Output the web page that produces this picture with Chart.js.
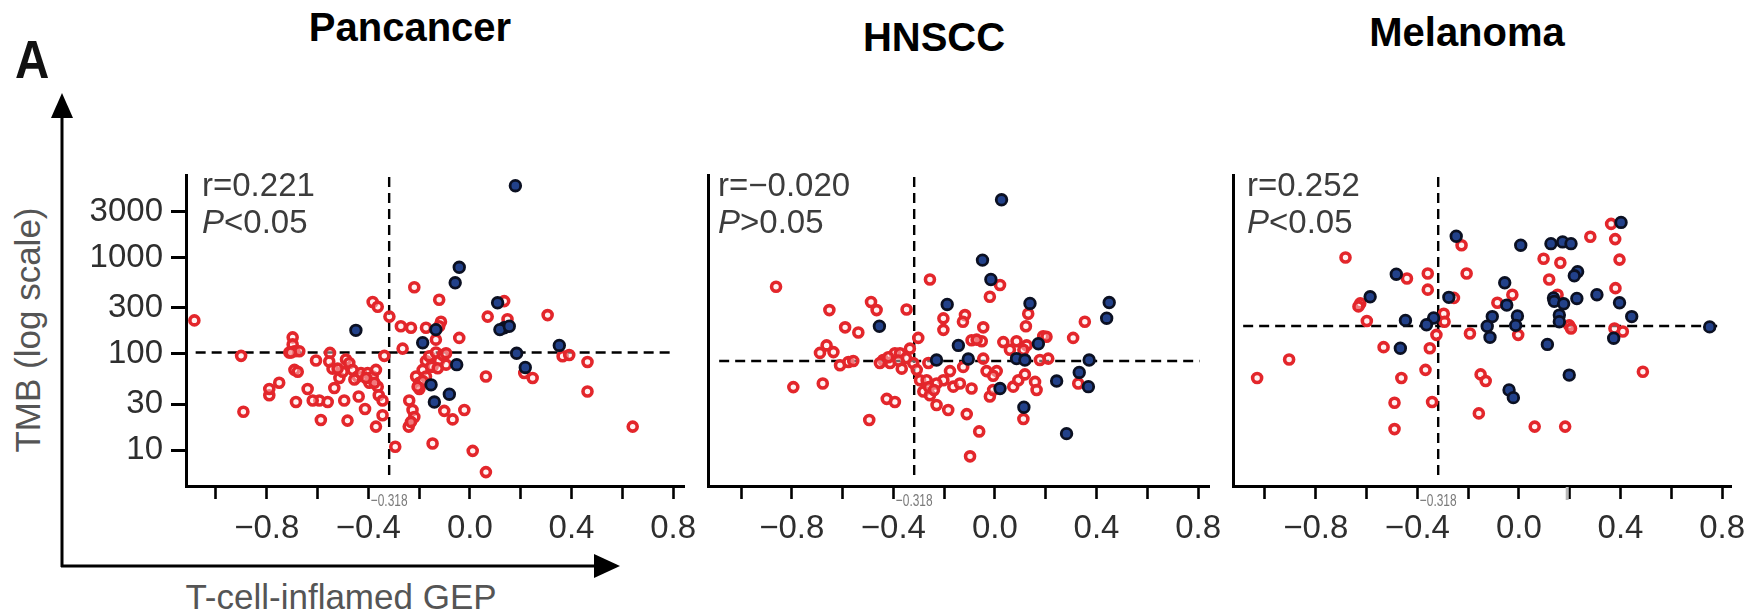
<!DOCTYPE html>
<html><head><meta charset="utf-8">
<script src="https://cdn.jsdelivr.net/npm/chart.js@4.4.0/dist/chart.umd.min.js"></script>
<style>
html,body{margin:0;padding:0;background:#fff;width:1762px;height:611px;overflow:hidden;font-family:"Liberation Sans",Arial,sans-serif;}
canvas{position:absolute;}
.t{position:absolute;white-space:nowrap;line-height:1;}
.title{font-weight:bold;font-size:40px;color:#000;transform:translateX(-50%);}
.stat{font-size:33px;line-height:37px;color:#3c3c3c;}
.axl{font-size:35px;color:#555;}
</style></head><body>
<svg width="1762" height="611" style="position:absolute;left:0;top:0">
  <line x1="62" y1="112" x2="62" y2="567" stroke="#000" stroke-width="3"/>
  <polygon points="62,93 51,118 73,118" fill="#000"/>
  <line x1="61" y1="566" x2="600" y2="566" stroke="#000" stroke-width="3"/>
  <polygon points="620,566 594,554 594,578" fill="#000"/>
</svg>
<div class="t" style="left:15px;top:32px;font-size:54px;font-weight:bold;transform:scaleX(0.88);transform-origin:left top;color:#111">A</div>
<div class="t title" style="left:410px;top:7px">Pancancer</div>
<div class="t title" style="left:934px;top:17px">HNSCC</div>
<div class="t title" style="left:1467px;top:12px">Melanoma</div>
<div class="t axl" style="left:27px;top:330px;transform:translate(-50%,-50%) rotate(-90deg)">TMB (log scale)</div>
<div class="t axl" style="left:341px;top:579px;transform:translateX(-50%)">T-cell-inflamed GEP</div>
<canvas id="c0"></canvas><canvas id="c1"></canvas><canvas id="c2"></canvas>
<div class="t stat" style="left:202px;top:166px">r=0.221<br><i>P</i>&lt;0.05</div>
<div class="t stat" style="left:718px;top:166px">r=−0.020<br><i>P</i>&gt;0.05</div>
<div class="t stat" style="left:1247px;top:166px">r=0.252<br><i>P</i>&lt;0.05</div>
<script>
// ---- data ----
const xTicks = [-1.0,-0.8,-0.6,-0.4,-0.2,0.0,0.2,0.4,0.6,0.8];
const xLabelled = [-0.8,-0.4,0.0,0.4,0.8];
const yTicks = [10,30,100,300,1000,3000];
const gepCutoff = -0.318;
const tmbCutoffs = [103, 84, 194];
const hLineExtent = [[-1.08,0.80],[-1.086,0.806],[-1.086,0.798]];
const vLineExtent = [5.5, 6850];
const greyMark = [null, null, 0.19];

const pancancerRed = [[-1.085,222],[-0.901,95],[-0.892,25],[-0.790,37],[-0.751,50],[-0.698,148],[-0.698,125],[-0.691,106],[-0.711,103],[-0.672,106],[-0.691,68],[-0.678,65],[-0.685,31.5],[-0.639,43],[-0.606,85],[-0.593,32.7],[-0.560,31.5],[-0.587,20.5],[-0.551,102],[-0.541,70],[-0.534,44],[-0.514,56],[-0.495,32.7],[-0.488,87],[-0.475,80],[-0.482,20.2],[-0.462,68],[-0.442,58],[-0.438,36],[-0.429,63],[-0.413,26.7],[-0.403,63],[-0.396,50],[-0.383,58],[-0.370,68],[-0.363,45.5],[-0.359,37],[-0.370,17.5],[-0.344,23],[-0.337,95],[-0.383,345],[-0.363,307],[-0.317,243],[-0.294,10.8],[-0.272,193],[-0.265,113],[-0.232,186],[-0.219,490],[-0.239,32.7],[-0.226,26],[-0.241,17.5],[-0.212,58],[-0.199,50],[-0.173,84],[-0.160,94],[-0.147,73.5],[-0.134,103],[-0.121,84],[-0.107,97],[-0.094,77],[-0.173,186],[-0.114,215],[-0.121,363],[-0.042,146],[-0.022,26],[-0.068,20.8],[-0.101,25.5],[-0.147,11.7],[0.011,9.8],[0.063,5.9],[0.063,58],[0.070,243],[0.135,352],[0.148,228],[0.306,252],[0.365,94],[0.391,97],[0.463,82],[0.463,40.5],[0.247,56],[0.214,63],[0.641,17.5],[-0.199,43],[-0.186,68],[-0.134,140],[-0.121,193],[-0.344,32.7],[-0.619,32.7],[-0.153,73.5],[-0.127,70.6],[-0.094,101],[-0.173,58],[-0.186,52],[-0.206,45.5],[-0.219,22],[-0.232,19.6],[-0.455,54],[-0.409,56],[-0.376,50],[-0.501,65],[-0.521,70],[-0.554,83],[-0.705,103],[-0.790,43]];
const pancancerBlue = [[0.179,5560],[-0.042,790],[-0.058,545],[0.109,338],[0.135,186],[0.118,178],[-0.449,175],[-0.134,178],[-0.186,130],[0.184,101],[0.352,122],[0.218,72],[-0.052,77],[-0.153,47.5],[-0.081,38],[-0.140,31.5],[0.155,193]];

const hnsccRed = [[-0.862,497],[-0.652,284],[-0.590,188],[-0.538,166],[-0.488,345],[-0.466,284],[-0.348,288],[-0.256,590],[-0.794,45],[-0.678,49],[-0.689,102],[-0.663,122],[-0.636,104],[-0.610,76],[-0.577,82],[-0.558,84],[-0.495,20.5],[-0.426,34],[-0.394,31.5],[-0.440,86],[-0.413,80],[-0.394,101],[-0.367,70],[-0.335,113],[-0.322,80],[-0.302,146],[-0.295,53],[-0.282,40.5],[-0.256,37],[-0.230,29.3],[-0.184,26],[-0.111,23.6],[-0.062,15.6],[-0.098,8.6],[-0.203,233],[-0.203,177],[-0.118,252],[-0.126,215],[-0.046,188],[-0.020,390],[0.020,517],[-0.092,138],[-0.052,135],[0.033,132],[0.085,135],[0.125,122],[0.131,260],[0.122,193],[0.190,152],[0.308,146],[0.354,215],[0.210,89],[0.177,86],[-0.046,89],[-0.033,66],[0.007,66],[-0.007,59],[-0.020,36],[-0.007,42],[-0.177,66],[-0.164,45.5],[-0.138,49],[-0.092,43.5],[-0.125,73],[-0.203,53],[-0.230,49],[0.072,45.5],[0.092,53],[0.118,61],[0.158,51],[0.164,42],[0.112,21],[0.328,49],[-0.262,80],[-0.308,68],[-0.072,140],[0.059,110],[0.112,110],[-0.269,53],[0.203,150],[-0.374,101],[-0.453,80],[-0.420,92],[-0.350,90],[-0.380,85],[-0.260,45],[-0.240,42]];
const hnsccBlue = [[0.026,3970],[-0.049,938],[-0.016,590],[-0.188,325],[0.138,333],[0.450,340],[0.440,234],[-0.455,193],[-0.144,122],[0.171,127],[-0.230,86],[-0.105,88],[0.085,89],[0.118,86],[0.371,86],[0.332,64],[0.368,45.5],[0.243,52],[0.020,43.5],[0.114,27.8],[0.282,14.8]];

const melanomaRed = [[-1.031,56],[-0.905,87],[-0.683,1000],[-0.625,333],[-0.632,310],[-0.599,219],[-0.533,117],[-0.463,56],[-0.490,31],[-0.490,16.5],[-0.441,605],[-0.359,680],[-0.359,463],[-0.368,68],[-0.351,114],[-0.342,31.5],[-0.325,157],[-0.296,260],[-0.293,215],[-0.256,380],[-0.226,1340],[-0.206,680],[-0.193,162],[-0.158,24],[-0.151,61],[-0.131,52],[-0.085,338],[-0.026,410],[-0.003,157],[0.062,17.5],[0.182,17.5],[0.097,970],[0.119,590],[0.163,880],[0.198,197],[0.205,183],[0.281,1640],[0.363,2230],[0.379,1550],[0.396,950],[0.380,480],[0.376,183],[0.409,170],[0.488,65],[0.152,410]];
const melanomaBlue = [[0.402,2310],[-0.247,1660],[0.007,1340],[0.126,1390],[0.172,1450],[0.205,1390],[0.231,712],[0.218,645],[-0.483,670],[-0.586,390],[-0.056,545],[-0.276,385],[0.136,380],[0.139,350],[0.176,330],[0.228,375],[0.307,410],[0.396,338],[-0.048,320],[-0.447,222],[-0.336,235],[-0.364,200],[-0.105,243],[-0.006,247],[-0.013,197],[-0.125,193],[-0.114,148],[0.159,252],[0.444,243],[0.751,190],[0.373,145],[0.112,125],[-0.467,114],[0.198,60],[-0.039,42],[-0.022,35],[0.159,215]];

// ---- layout ----
const panels = [
  {id:'c0', red:pancancerRed, blue:pancancerBlue, left:186, width:498, xmin:-1.118, xmax:0.843},
  {id:'c1', red:hnsccRed, blue:hnsccBlue, left:708, width:501, xmin:-1.130, xmax:0.843},
  {id:'c2', red:melanomaRed, blue:melanomaBlue, left:1233, width:498, xmin:-1.126, xmax:0.835}
];
const AXW = 110, PADR = 40, TOP = 175, BOTTOM = 486, XH = 70, PADT = 10;
Chart.defaults.font.family = '"Liberation Sans", Arial, sans-serif';

const cutoffLabel = {
  id:'cutoffLabel',
  afterDraw(chart, args, opts) {
    const {ctx, chartArea, scales:{x}} = chart;
    ctx.save();
    if (opts.grey != null) {
      const gx = x.getPixelForValue(opts.grey);
      ctx.strokeStyle = '#b8b8b8'; ctx.lineWidth = 3;
      ctx.beginPath(); ctx.moveTo(gx, chartArea.bottom + 1); ctx.lineTo(gx, chartArea.bottom + 14); ctx.stroke();
    }
    const px = x.getPixelForValue(gepCutoff);
    ctx.translate(px, chartArea.bottom + 7);
    ctx.scale(0.7, 1);
    ctx.font = '17px "Liberation Sans", Arial';
    ctx.fillStyle = '#7a7a7a';
    ctx.textAlign = 'center'; ctx.textBaseline = 'top';
    ctx.fillText('−' + Math.abs(gepCutoff).toFixed(3), 0, 0);
    ctx.restore();
  }
};

panels.forEach((p, i) => {
  const cv = document.getElementById(p.id);
  cv.width = p.width + AXW + PADR;
  cv.height = (BOTTOM - TOP) + PADT + XH;
  cv.style.left = (p.left - AXW) + 'px';
  cv.style.top = (TOP - PADT) + 'px';
  new Chart(cv, {
    type: 'scatter',
    data: { datasets: [
      {type:'line', data:[{x:hLineExtent[i][0], y:tmbCutoffs[i]},{x:hLineExtent[i][1], y:tmbCutoffs[i]}], borderColor:'#000', borderWidth:2.4, borderDash:[10,6], pointRadius:0, fill:false, order:3},
      {type:'line', data:[{x:gepCutoff, y:vLineExtent[0]},{x:gepCutoff, y:vLineExtent[1]}], borderColor:'#000', borderWidth:2.4, borderDash:[10,6], pointRadius:0, fill:false, order:3},
      {data:p.red.map(([x,y])=>({x,y})), pointRadius:4.5, borderWidth:3.6, borderColor:'#e3262b', backgroundColor:'rgba(255,225,225,0.45)', order:2},
      {data:p.blue.map(([x,y])=>({x,y})), pointRadius:5.3, borderWidth:2.8, borderColor:'#0b1022', backgroundColor:'#22418a', order:1}
    ]},
    options: {
      responsive:false, animation:false, devicePixelRatio:1,
      layout:{padding:{left:0, top:PADT, right:PADR, bottom:0}},
      plugins:{legend:{display:false}, tooltip:{enabled:false}, cutoffLabel:{grey:greyMark[i]}},
      scales:{
        x:{type:'linear', min:p.xmin, max:p.xmax,
          afterBuildTicks:s=>{s.ticks = xTicks.map(v=>({value:v}));},
          afterFit:s=>{s.height = XH; s.paddingLeft = 0; s.paddingRight = 0;},
          ticks:{autoSkip:false, maxRotation:0, padding:10, color:'#2e2e2e', font:{size:33},
            callback:(v)=>{const r = Math.round(v*10)/10; if (!xLabelled.some(l=>Math.abs(l-r)<1e-9)) return ''; return (r<0?'−':'') + Math.abs(r).toFixed(1);}},
          grid:{drawOnChartArea:false, drawTicks:true, tickLength:13, tickWidth:2.6, tickColor:'#000'},
          border:{display:true, color:'#000', width:3}},
        y:{type:'logarithmic', min:4.23, max:7180,
          afterBuildTicks:s=>{s.ticks = yTicks.map(v=>({value:v}));},
          afterFit:s=>{s.width = AXW; s.paddingTop = 0; s.paddingBottom = 0;},
          ticks:{display:i===0, padding:8, color:'#2e2e2e', font:{size:33}, callback:(v)=>String(v)},
          grid:{drawOnChartArea:false, drawTicks:i===0, display:true, tickLength:15, tickWidth:3, tickColor:i===0?'#000':'rgba(0,0,0,0)'},
          border:{display:true, color:'#000', width:3}}
      }
    },
    plugins:[cutoffLabel]
  });
});
</script>
</body></html>
